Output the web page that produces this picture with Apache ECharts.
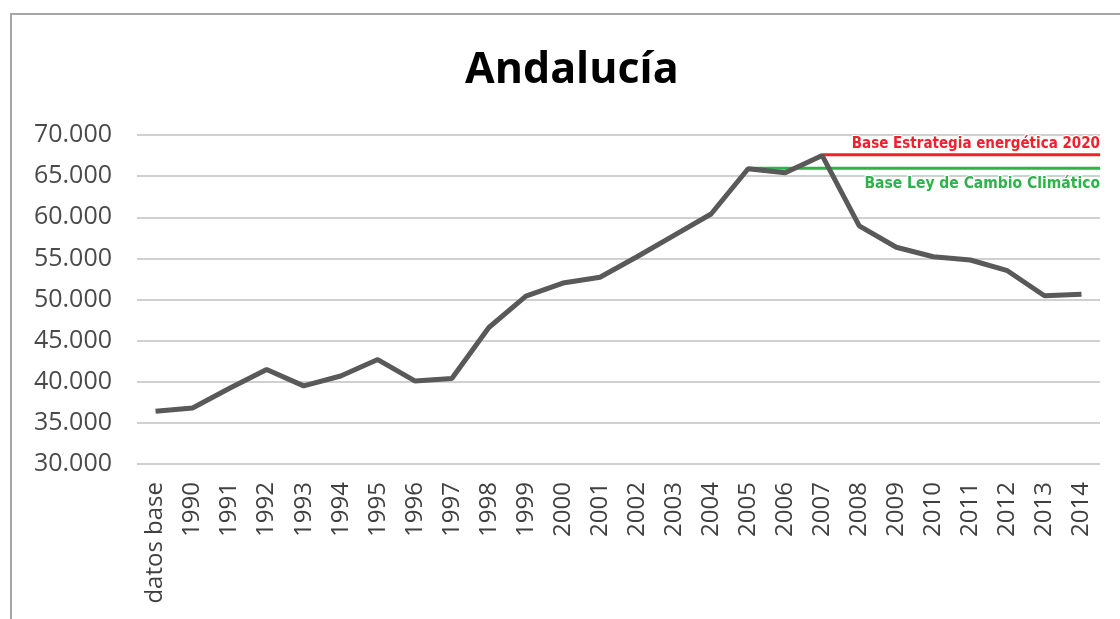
<!DOCTYPE html>
<html lang="es">
<head>
    <meta charset="UTF-8">
    <title>Andalucía</title>
    <script src="https://cdn.jsdelivr.net/npm/echarts@6/dist/echarts.min.js"></script>
    <style>
        html, body { margin: 0; padding: 0; background: #fff; }
        #main { width: 1120px; height: 619px; }
    </style>
</head>
<body>
<div id="main"></div>
<script type="text/javascript">
    // categorias del eje x
    var categorias = ['datos base', '1990', '1991', '1992', '1993', '1994', '1995', '1996', '1997', '1998',
        '1999', '2000', '2001', '2002', '2003', '2004', '2005', '2006', '2007', '2008',
        '2009', '2010', '2011', '2012', '2013', '2014'];
    // valores
    var emisiones = [36400, 36800, 39200, 41500, 39500, 40700, 42700, 40100, 40400, 46600,
        50400, 52000, 52700, 55200, 57800, 60400, 65900, 65400, 67500, 58950,
        56350, 55200, 54800, 53500, 50450, 50650];
    // lineas base
    var baseEstrategia = 67600;
    var baseEstrategiaDesde = '2007';
    var baseLey = 65950;
    var baseLeyDesde = '2005';
    // eje y
    var yMin = 30000, yMax = 70000, yPaso = 5000;

    function formatoMiles(v) {
        return String(v).replace(/\B(?=(\d{3})+(?!\d))/g, '.');
    }

    var n = categorias.length;
    var inicioEstrategia = categorias.indexOf(baseEstrategiaDesde) + 0.5;
    var inicioLey = categorias.indexOf(baseLeyDesde) + 0.5;

    var fuenteNota = {
        fontFamily: 'DejaVu Sans Condensed',
        fontWeight: 'bold',
        textBorderColor: '#fff',
        textBorderWidth: 2
    };

    var myChart = echarts.init(document.getElementById('main'));

    var option = {
        animation: false,
        title: {
            text: 'Andalucía',
            left: 460,
            top: 44,
            textStyle: {
                fontFamily: 'Open Sans',
                fontSize: 43,
                fontWeight: 'bold',
                color: '#000'
            }
        },
        graphic: [{
            type: 'rect',
            shape: { x: 11, y: 14, width: 1200, height: 700 },
            style: { fill: 'none', stroke: '#a6a6a6', lineWidth: 2 },
            silent: true
        }],
        grid: { left: 137, right: 20, top: 135, bottom: 155 },
        xAxis: [{
            type: 'category',
            data: categorias,
            boundaryGap: true,
            axisLine: { show: false },
            axisTick: { show: false },
            axisLabel: {
                rotate: 90,
                margin: 18,
                interval: 0,
                color: '#404040',
                fontFamily: 'Open Sans',
                fontSize: 24
            }
        }, {
            type: 'value',
            min: 0,
            max: n,
            show: false
        }],
        yAxis: {
            type: 'value',
            min: yMin,
            max: yMax,
            interval: yPaso,
            axisLine: { show: false },
            axisTick: { show: false },
            axisLabel: {
                margin: 25,
                color: '#4a4a4a',
                fontFamily: 'Open Sans',
                fontSize: 25,
                formatter: formatoMiles
            },
            splitLine: { lineStyle: { color: '#d0d0d0', width: 2 } }
        },
        series: [{
            name: 'Andalucía',
            type: 'line',
            data: emisiones,
            showSymbol: false,
            lineStyle: { color: '#595959', width: 5 },
            z: 3
        }, {
            name: 'Base Estrategia energética 2020',
            type: 'line',
            xAxisIndex: 1,
            symbol: 'circle',
            symbolSize: 1,
            itemStyle: { color: '#f2202c' },
            lineStyle: { color: '#f2202c', width: 3 },
            z: 2,
            data: [
                [inicioEstrategia, baseEstrategia],
                {
                    value: [n, baseEstrategia],
                    label: Object.assign({
                        show: true,
                        position: 'top',
                        align: 'right',
                        distance: 3,
                        fontSize: 15,
                        formatter: 'Base Estrategia energética 2020',
                        color: '#f2202c'
                    }, fuenteNota)
                }
            ]
        }, {
            name: 'Base Ley de Cambio Climático',
            type: 'line',
            xAxisIndex: 1,
            symbol: 'circle',
            symbolSize: 1,
            itemStyle: { color: '#2db34a' },
            lineStyle: { color: '#2db34a', width: 3 },
            z: 2,
            data: [
                [inicioLey, baseLey],
                {
                    value: [n, baseLey],
                    label: Object.assign({
                        show: true,
                        position: 'bottom',
                        align: 'right',
                        distance: 7,
                        fontSize: 15.5,
                        formatter: 'Base Ley de Cambio Climático',
                        color: '#2db34a'
                    }, fuenteNota)
                }
            ]
        }]
    };

    myChart.setOption(option);
</script>
</body>
</html>
